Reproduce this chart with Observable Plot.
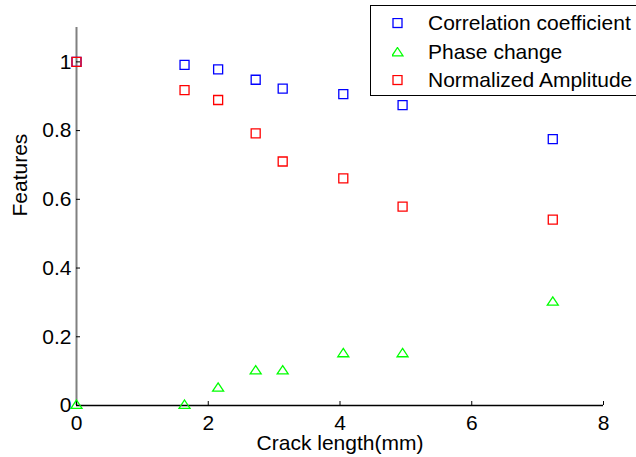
<!DOCTYPE html>
<html>
<head>
<meta charset="utf-8">
<script src="https://cdn.jsdelivr.net/npm/d3@7"></script>
<script src="https://cdn.jsdelivr.net/npm/@observablehq/plot@0.6"></script>
<style>
  html, body { margin: 0; padding: 0; background: #fff; overflow: hidden; }
  #wrap { position: relative; width: 636px; height: 457px; overflow: hidden; font-family: "Liberation Sans", Arial, sans-serif; }
  #legend { position: absolute; left: 370px; top: 5px; width: 290px; height: 91px; border: 1.3px solid #000; background: #fff; box-sizing: border-box; }
  .item { position: absolute; left: 0; height: 28px; display: flex; align-items: center; font-size: 21px; color: #000; white-space: nowrap; }
  .item svg { position: absolute; left: 21px; }
  .item span { position: absolute; left: 57px; line-height: 28px; }
</style>
</head>
<body>
<div id="wrap"></div>
<script>
// Data
const crackLength = [0, 1.64, 2.15, 2.72, 3.13, 4.05, 4.95, 7.23];
const corrCoef    = [1.0, 0.991, 0.978, 0.948, 0.922, 0.906, 0.874, 0.775];
const phaseChange = [0, 0, 0.05, 0.10, 0.10, 0.15, 0.15, 0.30];
const normAmp     = [1.0, 0.918, 0.889, 0.792, 0.710, 0.661, 0.579, 0.541];

const seriesNames = ["Correlation coefficient", "Phase change", "Normalized Amplitude"];
const seriesColors = ["#0000ff", "#00ff00", "#ff0000"];

const xTicks = [0, 2, 4, 6, 8];
const yTicks = [0, 0.2, 0.4, 0.6, 0.8, 1];
const yTickLabels = ["0", "0.2", "0.4", "0.6", "0.8", "1"];
const xLabel = "Crack length(mm)";
const yLabel = "Features";

const corrData = crackLength.map((x, i) => ({x, y: corrCoef[i]}));
const phaseData = crackLength.map((x, i) => ({x, y: phaseChange[i]}));
const ampData = crackLength.map((x, i) => ({x, y: normAmp[i]}));

const triangle = {
  draw(context, size) {
    context.moveTo(0, -5.5);
    context.lineTo(5.5, 2.8);
    context.lineTo(-5.5, 2.8);
    context.closePath();
  }
};

const chart = Plot.plot({
  width: 636,
  height: 457,
  marginLeft: 76,
  marginRight: 33,
  marginTop: 27,
  marginBottom: 52,
  style: {fontFamily: "'Liberation Sans', Arial, sans-serif", fontSize: "21px", background: "#fff", color: "#000"},
  x: {domain: [0, 8]},
  y: {domain: [0, 1.1]},
  marks: [
    Plot.ruleX([0], {stroke: "#808080", strokeWidth: 2}),
    Plot.ruleY([0], {stroke: "#000", strokeWidth: 1.5}),
    Plot.axisX(xTicks, {tickSize: -4, tickPadding: 14, label: null, tickFormat: d => String(d)}),
    Plot.axisY(yTicks, {tickSize: -4, tickPadding: 9, label: null, tickFormat: (d, i) => yTickLabels[i]}),
    Plot.text([xLabel], {frameAnchor: "bottom", dy: 38, lineAnchor: "middle", fontSize: 21}),
    Plot.text([yLabel], {frameAnchor: "left", dx: -56, rotate: -90, lineAnchor: "middle", fontSize: 21}),
    Plot.dot(corrData, {x: "x", y: "y", symbol: "square", r: 5.08, stroke: seriesColors[0], strokeWidth: 1.3, fill: "none"}),
    Plot.dot(phaseData, {x: "x", y: "y", symbol: triangle, stroke: seriesColors[1], strokeWidth: 1.3, fill: "none"}),
    Plot.dot(ampData, {x: "x", y: "y", symbol: "square", r: 5.08, stroke: seriesColors[2], strokeWidth: 1.3, fill: "none"})
  ]
});

const wrap = document.getElementById("wrap");
wrap.appendChild(chart);

// Legend overlay (inside the axes, top-right, as in the reference)
const legend = document.createElement("div");
legend.id = "legend";
const rowCenters = [17, 46, 74];
seriesNames.forEach((name, i) => {
  const item = document.createElement("div");
  item.className = "item";
  item.style.top = (rowCenters[i] - 14) + "px";
  const shape = i === 1
    ? `<path d="M5.5,0.5 L11,8.8 L0,8.8 Z" fill="none" stroke="${seriesColors[i]}" stroke-width="1.3"/>`
    : `<rect x="1" y="0.5" width="9" height="9" fill="none" stroke="${seriesColors[i]}" stroke-width="1.3"/>`;
  item.innerHTML = `<svg width="12" height="11" viewBox="0 0 12 11">${shape}</svg><span>${name}</span>`;
  legend.appendChild(item);
});
wrap.appendChild(legend);
</script>
</body>
</html>
